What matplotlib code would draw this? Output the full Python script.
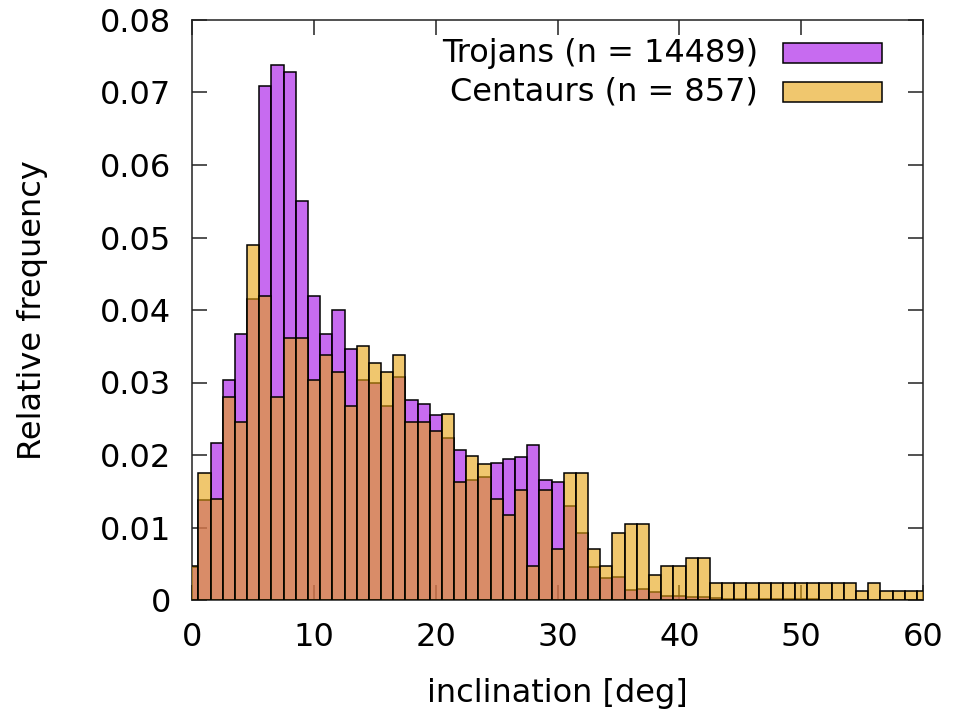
import matplotlib
matplotlib.use("Agg")
import matplotlib.pyplot as plt
from matplotlib.patches import Rectangle
import numpy as np

# Inclination bins (1 deg wide, centred on whole degrees)
inclination = list(range(0, 61))

# Relative frequency per bin
trojans = [
    0.0045, 0.0138, 0.0216, 0.0303, 0.0367, 0.0415, 0.0709, 0.0738, 0.0728, 0.0550,
    0.0419, 0.0367, 0.0400, 0.0346, 0.0303, 0.0299, 0.0268, 0.0307, 0.0276, 0.0270,
    0.0255, 0.0223, 0.0207, 0.0166, 0.0169, 0.0189, 0.0194, 0.0197, 0.0214, 0.0166,
    0.0163, 0.0129, 0.0093, 0.0045, 0.0031, 0.0032, 0.0014, 0.0015, 0.0011, 0.0005,
    0.0005, 0.0004, 0.0004, 0.0003, 0.0002, 0.0002, 0.0001, 0.0001, 0.0001, 0.0001,
    0.0001, 0.0001, 0.0000, 0.0000, 0.0000, 0.0000, 0.0000, 0.0000, 0.0000, 0.0000,
    0.0000,
]
centaurs = [
    0.0047, 0.0175, 0.0140, 0.0280, 0.0245, 0.0490, 0.0420, 0.0280, 0.0362, 0.0362,
    0.0303, 0.0338, 0.0315, 0.0268, 0.0350, 0.0327, 0.0315, 0.0338, 0.0245, 0.0245,
    0.0233, 0.0257, 0.0163, 0.0198, 0.0187, 0.0140, 0.0117, 0.0152, 0.0047, 0.0152,
    0.0070, 0.0175, 0.0175, 0.0070, 0.0047, 0.0093, 0.0105, 0.0105, 0.0035, 0.0047,
    0.0047, 0.0058, 0.0058, 0.0023, 0.0023, 0.0023, 0.0023, 0.0023, 0.0023, 0.0023,
    0.0023, 0.0023, 0.0023, 0.0023, 0.0023, 0.0012, 0.0023, 0.0012, 0.0012, 0.0012,
    0.0012,
]

labels = ["Trojans (n = 14489)", "Centaurs (n = 857)"]
x_ticks = [0, 10, 20, 30, 40, 50, 60]
y_ticks = [0, 0.01, 0.02, 0.03, 0.04, 0.05, 0.06, 0.07, 0.08]
y_tick_labels = ["0", "0.01", "0.02", "0.03", "0.04", "0.05", "0.06", "0.07", "0.08"]

trojan_face = (160 / 255, 0 / 255, 230 / 255, 0.58)
centaur_face = (230 / 255, 163 / 255, 13 / 255, 0.6)

plt.rcParams["font.family"] = ["DejaVu Sans"]
FS = 23

fig = plt.figure(figsize=(9.61, 7.17), dpi=100)
ax = fig.add_axes([192.3 / 961, 1 - 600 / 717, 730.7 / 961, 580 / 717])

ax.bar(inclination, trojans, width=1.0, align="center",
       facecolor=trojan_face, edgecolor="black", linewidth=1.1, zorder=2)
ax.bar(inclination, centaurs, width=1.0, align="center",
       facecolor=centaur_face, edgecolor="black", linewidth=1.1, zorder=3)

ax.set_xlim(0, 60)
ax.set_ylim(0, 0.08)
ax.set_xticks(x_ticks)
ax.set_yticks(y_ticks)
ax.set_yticklabels(y_tick_labels)

ax.tick_params(axis="both", direction="in", length=11, width=1.1,
               top=True, right=True, labelsize=FS, color="#222222")
ax.tick_params(axis="x", pad=16)
ax.tick_params(axis="y", pad=15)
for s in ax.spines.values():
    s.set_linewidth(1.1)
    s.set_color("#222222")

ax.set_xlabel("inclination [deg]", fontsize=FS)
ax.set_ylabel("Relative frequency", fontsize=FS)
ax.xaxis.set_label_coords(0.5, -0.135)
ax.yaxis.set_label_coords(-0.198, 0.5)

# Key: label text to the left of a filled swatch
rows = [(0.9426, trojan_face), (0.8759, centaur_face)]
for (yc, face), text in zip(rows, labels):
    ax.text(0.774, yc, text, transform=ax.transAxes, ha="right", va="center",
            fontsize=FS, zorder=5)
    ax.add_patch(Rectangle((0.808, yc - 0.0172), 0.1355, 0.0344,
                           transform=ax.transAxes, facecolor=face,
                           edgecolor="black", linewidth=1.1, zorder=5,
                           clip_on=False))

fig.savefig("out.png", dpi=100)
